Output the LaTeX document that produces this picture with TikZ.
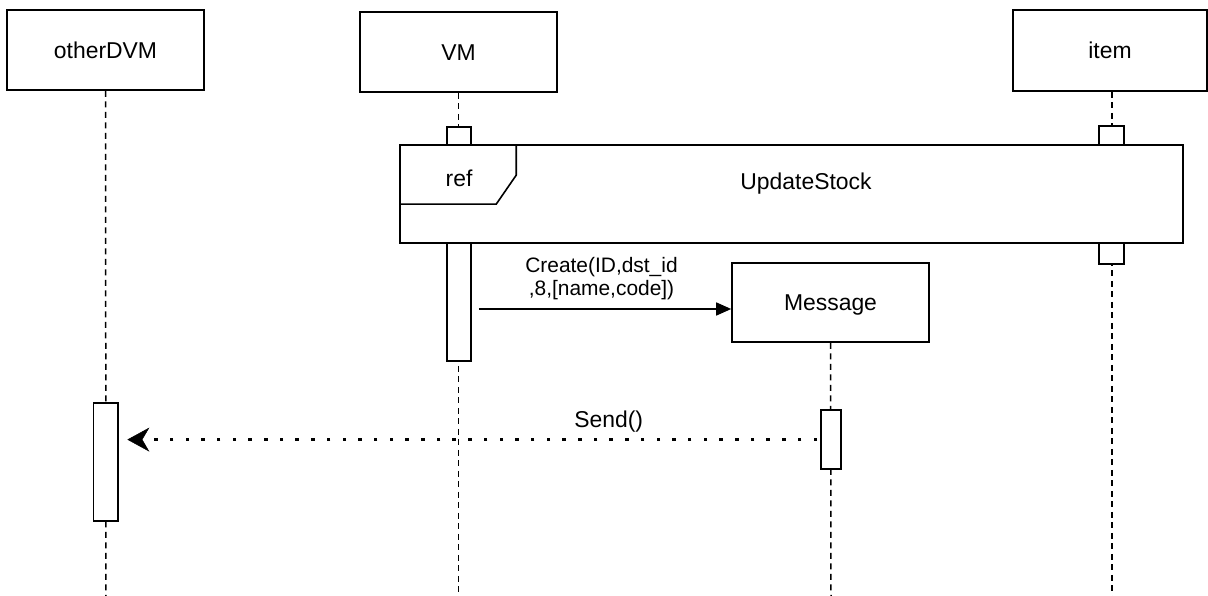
\documentclass[tikz,border=0pt]{standalone}
\usepackage{fontspec}
\setmainfont{Liberation Sans}
\usetikzlibrary{arrows.meta,calc}
\begin{document}
\begin{tikzpicture}[x=1bp,y=-1bp,
  box/.style={draw, line width=1.6bp, fill=white, inner sep=0pt,
    minimum width=197bp, minimum height=80bp, text height=17bp, text depth=0pt,
    font=\fontsize{23}{27}\selectfont},
  lifeline/.style={line width=1.5bp, dash pattern=on 6bp off 4.5bp},
  act/.style={draw, line width=1.6bp, fill=white, inner sep=0pt},
  lbl/.style={inner sep=0pt, font=\fontsize{23}{27}\selectfont},
  createlbl/.style={inner sep=0pt, align=center, font=\fontsize{21}{23.6}\selectfont},
  syncmsg/.style={line width=1.5bp, -{Triangle[length=15bp,width=13bp]}},
  asyncmsg/.style={line width=3bp, dash pattern=on 3.5bp off 12.2bp,
    -{Stealth[length=22bp,width=24bp,inset=7bp,line width=0.5bp]}}
]
\useasboundingbox (0,0) rectangle (1208,596);

% heads
\node[box] (odvm) at (105.5,50) {otherDVM};
\node[box] (vm) at (458.5,52) {VM};
\node[box, minimum width=194bp, minimum height=81bp] (item) at (1110,50.5) {item};

% lifeline ends
\coordinate (odvmEnd) at (106,597);
\coordinate (vmEnd) at (458.5,597);
\coordinate (itemEnd) at (1112,597);
\coordinate (msgEnd) at (831,597);

\draw[lifeline] (odvm.south) -- (odvmEnd);
\draw[lifeline] (vm.south) -- (vmEnd);
\draw[lifeline] (item.south -| itemEnd) -- (itemEnd);

% activations
\node[act, minimum width=24.7bp, minimum height=118bp] (oact) at (105.7,461.7) {};
\node[act, minimum width=24bp, minimum height=234bp] (vmact) at (459,244) {};
\node[act, minimum width=25bp, minimum height=138bp] (itemact) at (1111.5,195) {};

% ref frame
\node[draw, line width=1.6bp, fill=white, inner sep=0pt,
  minimum width=783bp, minimum height=98bp] (ref) at (791.5,194) {};
\draw[line width=1.6bp] ($(ref.north west)+(117,0)$) -- ++(0,31) -- ++(-20,29) -- ($(ref.north west)+(0,60)$);
\node[lbl] (reflbl) at (459,178) {ref};
\node[lbl] (refname) at (806,184) {UpdateStock};

% message object
\node[box, minimum height=79bp] (msg) at (830.5,302.5) {Message};
\draw[lifeline] (msg.south) -- (msgEnd);
\node[act, minimum width=20.3bp, minimum height=59.3bp] (msgact) at (831,439.6) {};

% create message
\path ([yshift=-6.5bp]msg.west) coordinate (createEnd);
\draw[syncmsg, shorten <=7bp] (vmact.east |- createEnd) -- (createEnd)
  node[createlbl, midway, anchor=south, yshift=8.3bp] {Create(ID,dst\_id\\,8,[name,code])};

% send message
\draw[asyncmsg, shorten >=8.5bp, shorten <=3bp] (msgact.west) -- (oact.east |- msgact.west);
\node[lbl, anchor=base] (sendlbl) at (608.7,427.7) {Send()};
\end{tikzpicture}
\end{document}
